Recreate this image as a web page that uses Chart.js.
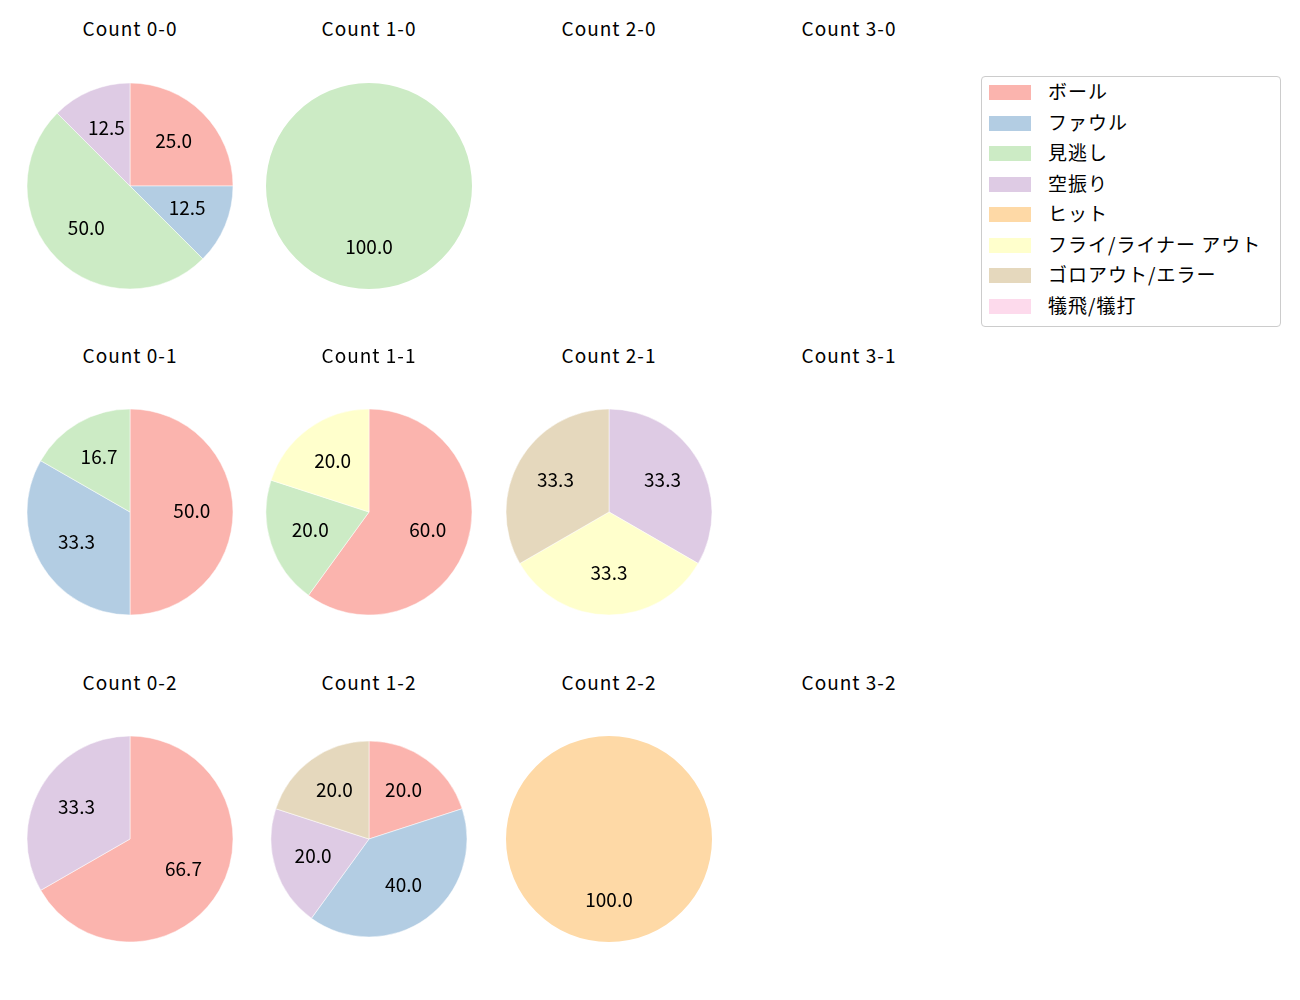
<!DOCTYPE html>
<html>
<head>
<meta charset="utf-8">
<script src="https://cdn.jsdelivr.net/npm/chart.js@4.4.0/dist/chart.umd.min.js"></script>
<style>
  body { margin: 0; background: #fff; font-family: "Noto Sans CJK JP", sans-serif; }
  #wrap { position: relative; width: 1300px; height: 1000px; }
  .title { position: absolute; width: 240px; text-align: center; font-size: 19px; letter-spacing: 1px; line-height: 1; color: #000; transform: translateY(-50%); }
  .pie { position: absolute; }
  #legend { position: absolute; left: 981px; top: 76px; width: 298px; height: 249px; border: 1px solid #cccccc; border-radius: 4px; background: #fff; }
  .item { position: absolute; left: 0; height: 20px; width: 290px; }
  .patch { position: absolute; left: 7px; width: 42px; height: 15px; top: 2px; }
  .lbl { position: absolute; left: 66px; top: -2px; font-size: 19px; letter-spacing: 1px; line-height: 20px; color: #000; white-space: nowrap; }
</style>
</head>
<body>
<div id="wrap"></div>
<script>
// カテゴリと色 (Pastel1)
const categories = ['ボール', 'ファウル', '見逃し', '空振り', 'ヒット', 'フライ/ライナー アウト', 'ゴロアウト/エラー', '犠飛/犠打'];
const colors = ['#fbb4ae', '#b3cde3', '#ccebc5', '#decbe4', '#fed9a6', '#ffffcc', '#e5d8bd', '#fddaec'];

// 各カウントの割合 (%)
const count00 = [25.0, 12.5, 50.0, 12.5, 0, 0, 0, 0];
const count10 = [0, 0, 100.0, 0, 0, 0, 0, 0];
const count20 = [];
const count30 = [];
const count01 = [50.0, 33.3, 16.7, 0, 0, 0, 0, 0];
const count11 = [60.0, 0, 20.0, 0, 0, 20.0, 0, 0];
const count21 = [0, 0, 0, 33.3, 0, 33.3, 33.3, 0];
const count31 = [];
const count02 = [66.7, 0, 0, 33.3, 0, 0, 0, 0];
const count12 = [20.0, 40.0, 0, 20.0, 0, 0, 20.0, 0];
const count22 = [0, 0, 0, 0, 100.0, 0, 0, 0];
const count32 = [];

const grid = [
  ['Count 0-0', count00], ['Count 1-0', count10], ['Count 2-0', count20], ['Count 3-0', count30],
  ['Count 0-1', count01], ['Count 1-1', count11], ['Count 2-1', count21], ['Count 3-1', count31],
  ['Count 0-2', count02], ['Count 1-2', count12], ['Count 2-2', count22], ['Count 3-2', count32]
];

const colX = [130, 369, 609, 849];
const rowY = [186, 512, 839];
const titleY = [27, 354, 681];

const pctLabels = {
  id: 'pctLabels',
  afterDatasetsDraw(chart) {
    const ctx = chart.ctx;
    const meta = chart.getDatasetMeta(0);
    const vals = chart.data.datasets[0].data;
    ctx.save();
    ctx.font = '19px "Noto Sans CJK JP"';
    ctx.fillStyle = '#000';
    ctx.textAlign = 'center';
    ctx.textBaseline = 'middle';
    meta.data.forEach((arc, i) => {
      const p = arc.getProps(['x', 'y', 'startAngle', 'endAngle', 'outerRadius'], true);
      const a = (p.startAngle + p.endAngle) / 2;
      const r = p.outerRadius * 0.6;
      ctx.fillText(vals[i].toFixed(1), p.x + Math.cos(a) * r, p.y + Math.sin(a) * r - 1.5);
    });
    ctx.restore();
  }
};

const wrap = document.getElementById('wrap');

grid.forEach(([name, vals], k) => {
  const col = k % 4, row = Math.floor(k / 4);
  const cx = colX[col], cy = rowY[row];

  const t = document.createElement('div');
  t.className = 'title';
  t.textContent = name;
  t.style.left = (cx - 120) + 'px';
  t.style.top = titleY[row] + 'px';
  wrap.appendChild(t);

  if (!vals.length) return;

  const data = [], bg = [], labels = [];
  vals.forEach((v, i) => {
    if (v > 0) { data.push(v); bg.push(colors[i]); labels.push(categories[i]); }
  });

  const c = document.createElement('canvas');
  c.className = 'pie';
  c.width = 240; c.height = 240;
  c.style.left = (cx - 120) + 'px';
  c.style.top = (cy - 120) + 'px';
  wrap.appendChild(c);

  new Chart(c.getContext('2d'), {
    type: 'pie',
    data: {
      labels: labels,
      datasets: [{
        data: data,
        backgroundColor: bg,
        borderColor: '#ffffff',
        borderWidth: data.length > 1 ? 0.5 : 0
      }]
    },
    options: {
      responsive: false,
      animation: false,
      radius: name === 'Count 1-2' ? 98 : 103,
      layout: { padding: 0 },
      plugins: { legend: { display: false }, tooltip: { enabled: false } }
    },
    plugins: [pctLabels]
  });
});

// 凡例
const legend = document.createElement('div');
legend.id = 'legend';
categories.forEach((cat, i) => {
  const it = document.createElement('div');
  it.className = 'item';
  it.style.top = (6 + i * 30.5) + 'px';
  it.innerHTML = '<div class="patch" style="background:' + colors[i] + '"></div><div class="lbl">' + cat + '</div>';
  legend.appendChild(it);
});
wrap.appendChild(legend);
</script>
</body>
</html>
